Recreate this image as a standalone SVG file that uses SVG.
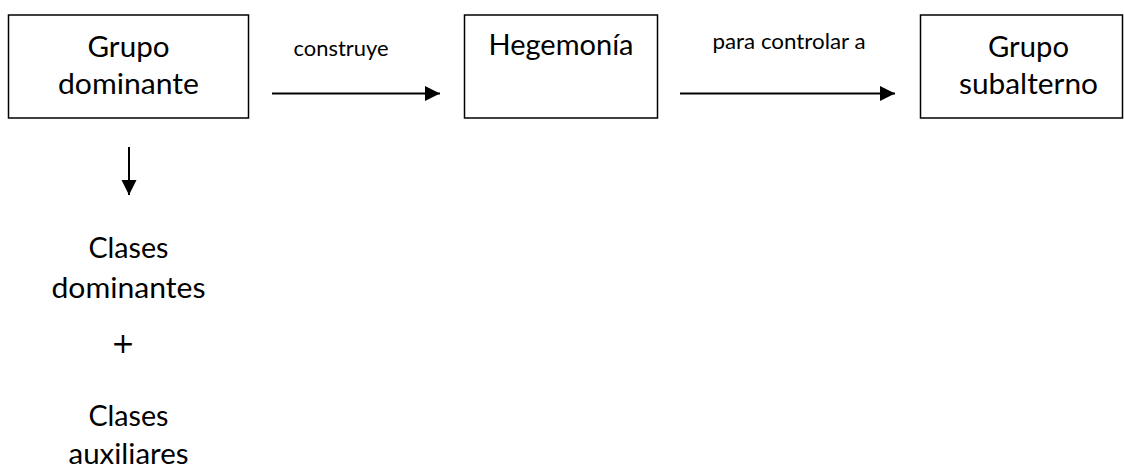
<svg xmlns="http://www.w3.org/2000/svg" width="1124" height="468" viewBox="0 0 1124 468">
  <style>
    .box { fill: #ffffff; stroke: #000000; stroke-width: 1.5; }
    .lbl { font-family: "Lato", "Liberation Sans", sans-serif; font-size: 29.5px; fill: #000000; text-anchor: middle; }
    .plus { font-family: "DejaVu Sans", "Liberation Sans", sans-serif; font-size: 28px; fill: #000000; text-anchor: middle; }
    .edge-lbl { font-family: "Lato", "Liberation Sans", sans-serif; font-size: 21.5px; fill: #000000; }
    .conn { stroke: #000000; stroke-width: 2; fill: none; }
  </style>
  <defs>
    <marker id="arrow" markerUnits="userSpaceOnUse" markerWidth="16" markerHeight="16" refX="15" refY="7.5" orient="auto">
      <path d="M0,0 L15,7.5 L0,15 Z" fill="#000000"/>
    </marker>
  </defs>

  <rect width="1124" height="468" fill="#ffffff"/>

  <g id="grupo-dominante">
    <rect class="box" x="8.5" y="15" width="240" height="103"/>
    <text class="lbl" x="128.5" y="57" textLength="82" lengthAdjust="spacingAndGlyphs">Grupo</text>
    <text class="lbl" x="128.5" y="94" textLength="141" lengthAdjust="spacingAndGlyphs">dominante</text>
  </g>

  <g id="hegemonia">
    <rect class="box" x="464.5" y="15" width="193" height="103"/>
    <text class="lbl" x="561" y="55" textLength="145" lengthAdjust="spacingAndGlyphs">Hegemonía</text>
  </g>

  <g id="grupo-subalterno">
    <rect class="box" x="920.5" y="15" width="202" height="103"/>
    <text class="lbl" x="1028.5" y="57" textLength="81" lengthAdjust="spacingAndGlyphs">Grupo</text>
    <text class="lbl" x="1028.5" y="94" textLength="139" lengthAdjust="spacingAndGlyphs">subalterno</text>
  </g>

  <g id="clases">
    <text class="lbl" x="128.5" y="258" textLength="80" lengthAdjust="spacingAndGlyphs">Clases</text>
    <text class="lbl" x="128.5" y="298" textLength="154" lengthAdjust="spacingAndGlyphs">dominantes</text>
    <text class="plus" x="123" y="353">+</text>
    <text class="lbl" x="128.5" y="426" textLength="80" lengthAdjust="spacingAndGlyphs">Clases</text>
    <text class="lbl" x="128.5" y="464" textLength="120" lengthAdjust="spacingAndGlyphs">auxiliares</text>
  </g>

  <g id="connectors">
    <line class="conn" x1="272" y1="93.5" x2="440" y2="93.5" marker-end="url(#arrow)"/>
    <text class="edge-lbl" x="293.5" y="56" textLength="95" lengthAdjust="spacingAndGlyphs">construye</text>
    <line class="conn" x1="680" y1="93.5" x2="895" y2="93.5" marker-end="url(#arrow)"/>
    <text class="edge-lbl" x="712.5" y="48.5" textLength="153" lengthAdjust="spacingAndGlyphs">para controlar a</text>
    <line class="conn" x1="129" y1="147" x2="129" y2="195" marker-end="url(#arrow)"/>
  </g>
</svg>
